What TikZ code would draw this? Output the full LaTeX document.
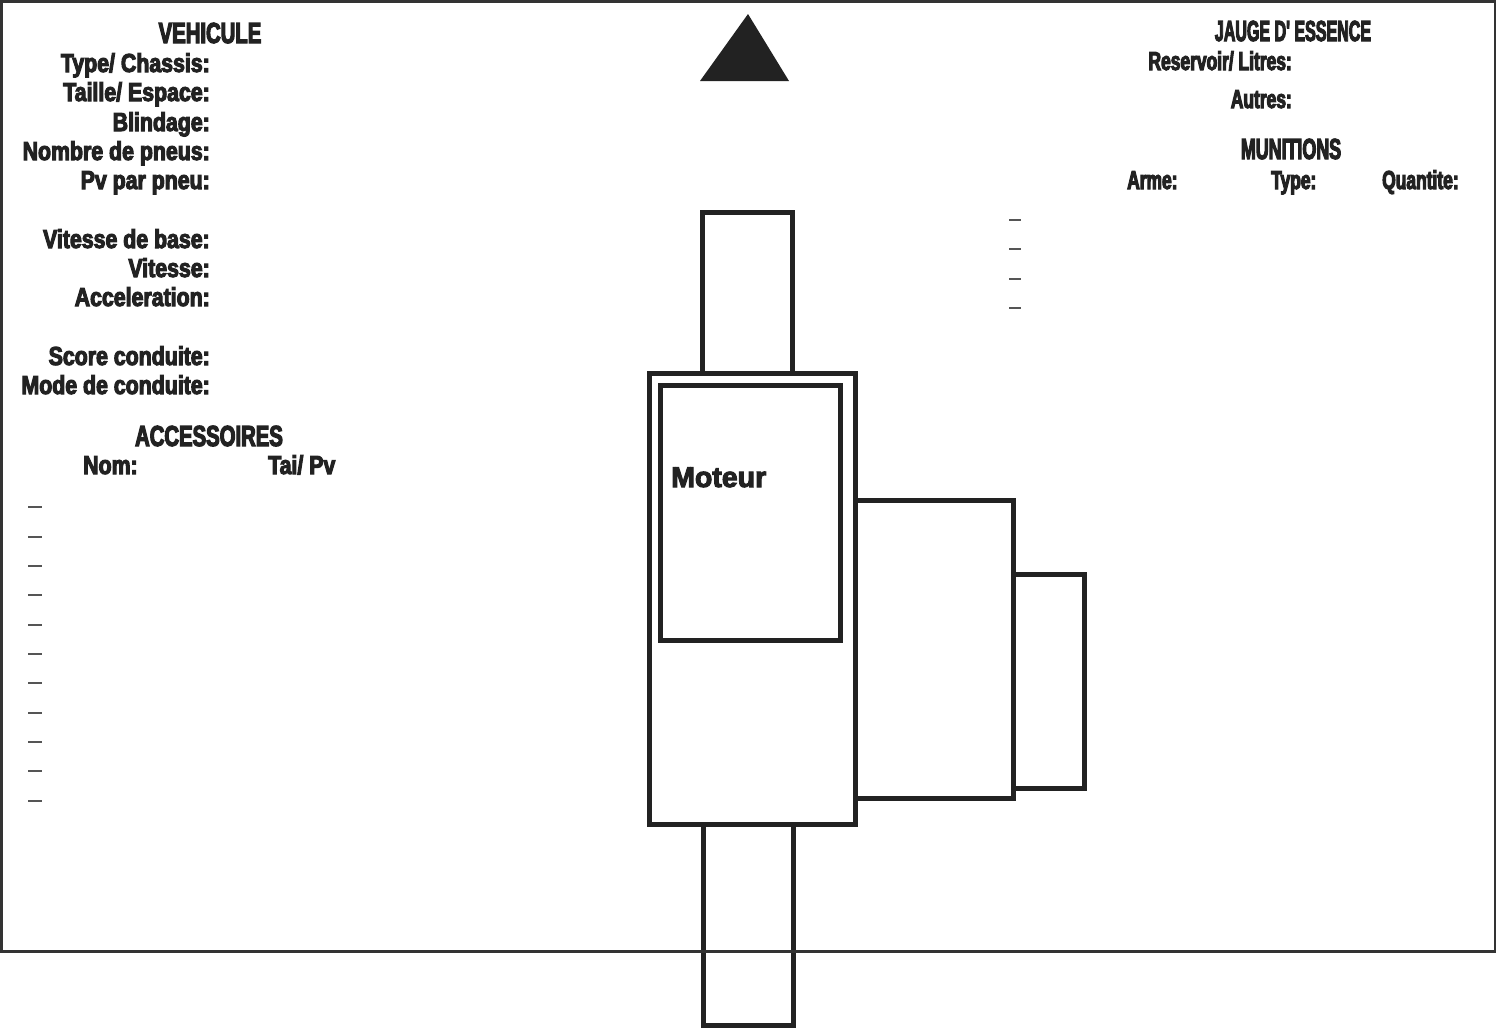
\documentclass[tikz,border=0pt]{standalone}
\usepackage{fontspec}
\setmainfont{Liberation Sans}
\newfontfamily\impL[FakeStretch=0.82,FakeBold=4]{Liberation Sans Bold}
\newfontfamily\impR[FakeStretch=0.67,FakeBold=4]{Liberation Sans Bold}
\newfontfamily\impT[FakeStretch=0.70,FakeBold=4]{Liberation Sans Bold}
\newfontfamily\blackfont[FakeBold=3.5]{Liberation Sans Bold}
\definecolor{ink}{HTML}{222222}
\definecolor{framec}{HTML}{333333}
\definecolor{dashc}{HTML}{555555}
\begin{document}
\begin{tikzpicture}[x=1pt,y=-1pt,
  lbl/.style={font=\impL\fontsize{26}{30}\selectfont, text=ink, inner sep=0pt, anchor=base east},
  lblr/.style={font=\impR\fontsize{26}{30}\selectfont, text=ink, inner sep=0pt, anchor=base east},
  lbll/.style={font=\impL\fontsize{26}{30}\selectfont, text=ink, inner sep=0pt, anchor=base west},
  lblrl/.style={font=\impR\fontsize{26}{30}\selectfont, text=ink, inner sep=0pt, anchor=base west},
  ttl/.style={font=\impT\fontsize{29}{32}\selectfont, text=ink, inner sep=0pt, anchor=base},
  boxline/.style={draw=ink, line width=5pt, fill=white},
  dashline/.style={draw=dashc, line width=1.8pt}
]
\useasboundingbox (0,0) rectangle (1502,1029);
\fill[white] (0,0) rectangle (1502,1029);

% bottom axle box (under frame line)
\draw[boxline] (703,824.5) rectangle (793.5,1025.5);
% frame
\draw[draw=framec, line width=2.6pt] (1.3,1.5) rectangle (1495,951.3);

% triangle
\fill[ink] (748,14) -- (789,81) -- (700,81) -- cycle;

% top axle box
\draw[boxline] (702.5,212.5) rectangle (792.5,373);
% body
\draw[boxline] (649.5,373) rectangle (855,824.5);
% engine box
\draw[boxline] (660,385) rectangle (840,640);
% middle box
\draw[boxline] (855,500) rectangle (1013,798);
% small box
\draw[boxline] (1013,574) rectangle (1084.5,788);
\draw[draw=ink, line width=5pt] (649.5,824.5) -- (855,824.5);

\node[font=\blackfont\fontsize{28.5}{32}\selectfont, text=ink, inner sep=0pt, anchor=base west] (moteur) at (671,487) {Moteur};

% left labels
\node[ttl] (vehicule) at (210,43) {VEHICULE};
\node[lbl] (l1) at (210,72) {Type/ Chassis:};
\node[lbl] (l2) at (210,101) {Taille/ Espace:};
\node[lbl] (l3) at (210,131) {Blindage:};
\node[lbl] (l4) at (210,160) {Nombre de pneus:};
\node[lbl] (l5) at (210,189) {Pv par pneu:};
\node[lbl] (l6) at (210,248) {Vitesse de base:};
\node[lbl] (l7) at (210,277) {Vitesse:};
\node[lbl] (l8) at (210,306) {Acceleration:};
\node[lbl] (l9) at (210,365) {Score conduite:};
\node[lbl] (l10) at (210,394) {Mode de conduite:};
\node[ttl] (acc) at (209,446) {ACCESSOIRES};
\node[lbll] (nom) at (83,474) {Nom:};
\node[lbll] (taipv) at (268,474) {Tai/ Pv};

\foreach \i in {0,...,10}{
  \coordinate (da\i) at (28,{507.3+29.34*\i});
  \coordinate (db\i) at (42,{507.3+29.34*\i});
  \draw[dashline] (da\i) -- (db\i);
}

% right labels
\node[ttl] (jauge) at (1293,41) {\scalebox{0.79}[1]{JAUGE D' ESSENCE}};
\node[lblr] (res) at (1292,70) {Reservoir/ Litres:};
\node[lblr] (autres) at (1292,108) {Autres:};
\node[ttl] (mun) at (1291,159) {\scalebox{0.88}[1]{MUNITIONS}};
\node[lblrl] (arme) at (1127,189) {Arme:};
\node[lblrl] (type) at (1271,189) {Type:};
\node[lblrl] (quant) at (1382,189) {Quantite:};

\foreach \i in {0,...,3}{
  \coordinate (ra\i) at (1009,{220+29.33*\i});
  \coordinate (rb\i) at (1021,{220+29.33*\i});
  \draw[dashline] (ra\i) -- (rb\i);
}
\end{tikzpicture}
\end{document}
